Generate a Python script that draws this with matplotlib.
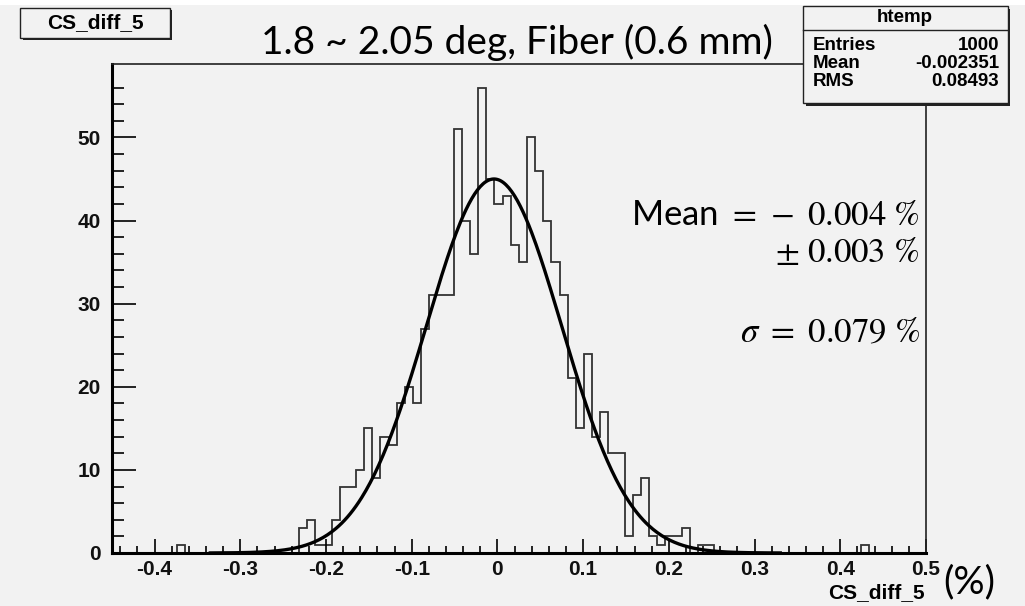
"""
CS_diff_5 分布 (1.8 ~ 2.05 deg, Fiber 0.6 mm) —— ROOT 风格直方图 + 高斯拟合
"""
import numpy as np
import matplotlib
matplotlib.use("Agg")
import matplotlib.pyplot as plt
from matplotlib.patches import Rectangle

matplotlib.rcParams["mathtext.fontset"] = "stix"

W, H = 1025, 606
BG = "#f2f2f2"

# 直方图: 100 个 bin, 范围 -0.45 ~ 0.5
x_lo, x_hi, n_bins = -0.45, 0.5, 100
# 非零 bin 的编号与计数
bin_index = [8, 23, 24, 25, 26, 27, 28, 29, 30, 31, 32, 33, 34, 35, 36, 37,
             38, 39, 40, 41, 42, 43, 44, 45, 46, 47, 48, 49, 50, 51, 52, 53,
             54, 55, 56, 57, 58, 59, 60, 61, 62, 63, 64, 65, 66, 67, 68, 69,
             70, 72, 73, 92]
bin_count = [1, 3, 4, 1, 1, 4, 8, 8, 10, 15, 9, 14, 13, 18, 20, 18,
             27, 31, 31, 31, 51, 40, 36, 56, 45, 42, 43, 37, 35, 50, 46, 40,
             35, 31, 21, 15, 24, 14, 17, 12, 12, 2, 7, 9, 2, 1, 2, 2,
             3, 1, 1, 1]

# 高斯拟合参数
fit_const = 45.0
fit_mean = -0.004
fit_sigma = 0.079
fit_range = (-0.335, 0.33)

# 统计框
stat_names = ["Entries", "Mean", "RMS"]
stat_values = ["1000", "-0.002351", "0.08493"]

x_ticks = [-0.4, -0.3, -0.2, -0.1, 0.0, 0.1, 0.2, 0.3, 0.4, 0.5]
x_tick_labels = ["-0.4", "-0.3", "-0.2", "-0.1", "0", "0.1", "0.2", "0.3", "0.4", "0.5"]
y_ticks = [0, 10, 20, 30, 40, 50]
y_tick_labels = ["0", "10", "20", "30", "40", "50"]


def fx(px):
    return px / W


def fy(py):
    return 1 - py / H


counts = np.zeros(n_bins)
counts[bin_index] = bin_count
edges = np.linspace(x_lo, x_hi, n_bins + 1)

fig = plt.figure(figsize=(W / 100, H / 100), dpi=100, facecolor="white")
fig.add_artist(Rectangle((0, 0), 1, fy(5), transform=fig.transFigure,
                         facecolor=BG, edgecolor="none", zorder=-10))

ax = fig.add_axes([fx(111.7), fy(553), fx(926) - fx(111.7), fy(64.3) - fy(553)])
ax.set_facecolor(BG)
ax.stairs(counts, edges, color="#333333", linewidth=1.3, baseline=0)

xf = np.linspace(fit_range[0], fit_range[1], 400)
yf = fit_const * np.exp(-0.5 * ((xf - fit_mean) / fit_sigma) ** 2)
ax.plot(xf, yf, color="black", linewidth=2.4)

ax.set_xlim(x_lo, x_hi)
ax.set_ylim(0, max(bin_count) * 1.05)

for s in ["left", "bottom"]:
    ax.spines[s].set_linewidth(2.2)
    ax.spines[s].set_color("black")
for s in ["top", "right"]:
    ax.spines[s].set_linewidth(1.2)
    ax.spines[s].set_color("#222222")

ax.set_xticks(x_ticks)
ax.set_xticklabels(x_tick_labels)
ax.set_xticks(np.arange(-0.44, 0.5, 0.02), minor=True)
ax.set_yticks(y_ticks)
ax.set_yticklabels(y_tick_labels)
ax.set_yticks(np.arange(0, 58, 2), minor=True)
ax.tick_params(axis="x", which="major", direction="in", length=10, width=1.2, pad=5)
ax.tick_params(axis="x", which="minor", direction="in", length=5, width=1.2)
ax.tick_params(axis="y", which="major", direction="in", length=17, width=1.2, pad=8)
ax.tick_params(axis="y", which="minor", direction="in", length=8.5, width=1.2)
for lab in ax.get_xticklabels() + ax.get_yticklabels():
    lab.set_fontfamily("Liberation Sans")
    lab.set_fontweight("bold")
    lab.set_fontsize(15)
    lab.set_color("#111111")

# x 轴标题
fig.text(fx(925), fy(593), "CS_diff_5", ha="right", va="center",
         family="Liberation Sans", fontweight="bold", fontsize=15)
fig.text(fx(969), fy(582), "(%)", ha="center", va="center",
         family="Lato", fontsize=28)

# 主标题
fig.text(fx(517), fy(42), "1.8 ~ 2.05 deg, Fiber (0.6 mm)", ha="center", va="center",
         family="Lato", fontsize=28)

# 左上角名称框
fig.add_artist(Rectangle((fx(23), fy(40)), fx(172) - fx(23), fy(10) - fy(40),
                         transform=fig.transFigure, facecolor="#222222",
                         edgecolor="none"))
fig.add_artist(Rectangle((fx(20), fy(38)), fx(170) - fx(20), fy(8) - fy(38),
                         transform=fig.transFigure, facecolor=BG,
                         edgecolor="#222222", linewidth=1.0))
fig.text(fx(95), fy(23), "CS_diff_5", ha="center", va="center",
         family="Liberation Sans", fontweight="bold", fontsize=15)

# 统计框
fig.add_artist(Rectangle((fx(806), fy(106)), fx(1010) - fx(806), fy(9) - fy(106),
                         transform=fig.transFigure, facecolor="#222222",
                         edgecolor="none"))
fig.add_artist(Rectangle((fx(803), fy(103)), fx(1008) - fx(803), fy(6) - fy(103),
                         transform=fig.transFigure, facecolor=BG,
                         edgecolor="#222222", linewidth=1.0))
fig.add_artist(plt.Line2D([fx(803), fx(1008)], [fy(30), fy(30)],
                          transform=fig.transFigure, color="#222222", linewidth=1.0))
fig.text(fx(905), fy(18), "htemp", ha="center", va="center",
         family="Liberation Sans", fontweight="bold", fontsize=13.5)
for i, (name, val) in enumerate(zip(stat_names, stat_values)):
    yy = 45 + i * 18
    fig.text(fx(813), fy(yy), name, ha="left", va="center",
             family="Liberation Sans", fontweight="bold", fontsize=13.5)
    fig.text(fx(999), fy(yy), val, ha="right", va="center",
             family="Liberation Sans", fontweight="bold", fontsize=13.5)

# 拟合结果
fig.text(fx(920), fy(215), r"Mean $=\,-\ 0.004\ \%$", ha="right", va="center",
         family="Lato", fontsize=25)
fig.text(fx(920), fy(252), r"$\pm\ 0.003\ \%$", ha="right", va="center",
         family="Lato", fontsize=25)
fig.text(fx(920), fy(332), r"$\sigma\ =\ 0.079\ \%$", ha="right", va="center",
         family="Lato", fontsize=25)

fig.savefig("out.png", dpi=100, facecolor=fig.get_facecolor())
plt.close()
